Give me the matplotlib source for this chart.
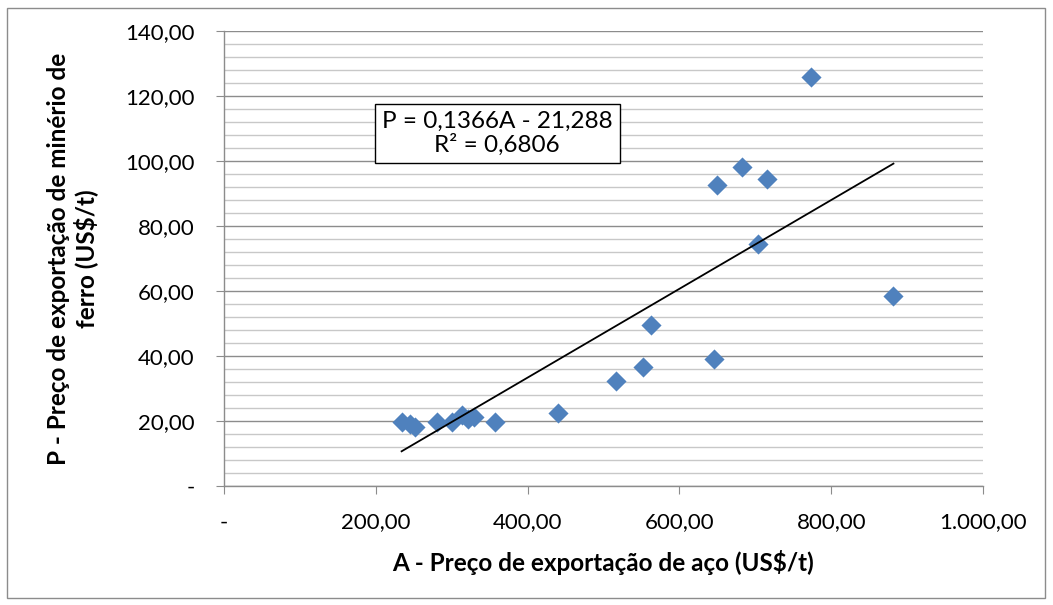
import numpy as np
import matplotlib
matplotlib.use('Agg')
import matplotlib.pyplot as plt
from matplotlib.ticker import MultipleLocator, FuncFormatter
from matplotlib.patches import Rectangle

# Steel export price (A) vs iron ore export price (P), US$/t
aco = [234, 245, 252, 281, 300, 314, 321, 330, 357, 440,
       517, 552, 562, 645, 650, 683, 715, 703, 882, 773]
minerio = [19.6, 19.0, 18.1, 19.6, 19.6, 21.8, 20.5, 21.3, 19.6, 22.6,
           32.4, 36.7, 49.5, 39.1, 92.5, 98.1, 94.4, 74.5, 58.5, 125.7]

# Excel linear trendline as printed on the chart
slope = 0.1366
intercept = -21.288
r2 = 0.6806

plt.rcParams['font.family'] = ['Lato', 'DejaVu Sans']

fig = plt.figure(figsize=(10.53, 6.05), dpi=100)
ax = fig.add_axes([224/1053, 1-486/605, 759/1053, 455/605])

# outer chart border
fig.patches.append(Rectangle((7/1053, 7/605), 1038/1053, 590/605, transform=fig.transFigure,
                             fill=False, edgecolor='#8c8c8c', linewidth=1.0))

ax.scatter(aco, minerio, marker='D', s=105, color='#4f81bd', zorder=3, linewidths=0)

xs = np.array([min(aco), max(aco)])
ax.plot(xs, slope*xs + intercept, color='black', linewidth=1.3, zorder=4)

ax.set_xlim(0, 1000)
ax.set_ylim(0, 140)
ax.xaxis.set_major_locator(MultipleLocator(200))
ax.yaxis.set_major_locator(MultipleLocator(20))
ax.yaxis.set_minor_locator(MultipleLocator(4))

def br(v, nd):
    # brazilian number format: 1.000,00
    s = '{:,.{}f}'.format(v, nd)
    return s.replace(',', 'X').replace('.', ',').replace('X', '.')

def fmt(v, pos):
    if abs(v) < 1e-9:
        return '-'
    return br(v, 2)

ax.xaxis.set_major_formatter(FuncFormatter(fmt))
ax.yaxis.set_major_formatter(FuncFormatter(fmt))

ax.grid(True, which='major', axis='y', color='#8c8c8c', linewidth=1.0, zorder=0)
ax.grid(True, which='minor', axis='y', color='#c8c8c8', linewidth=1.0, zorder=0)
ax.set_axisbelow(True)

for side in ['top', 'right']:
    ax.spines[side].set_visible(False)
for side in ['left', 'bottom']:
    ax.spines[side].set_color('#8c8c8c')
    ax.spines[side].set_linewidth(1.0)

ax.tick_params(axis='both', which='major', direction='out', length=6, color='#8c8c8c',
               labelsize=16, labelcolor='black')
ax.tick_params(axis='y', which='minor', length=0)
ax.tick_params(axis='x', pad=13)
ax.tick_params(axis='y', pad=15)

ax.set_xlabel('A - Preço de exportação de aço (US$/t)', fontsize=17.5, fontweight='bold', va='center')
ax.xaxis.set_label_coords(0.5, -0.168)
ax.set_ylabel('P - Preço de exportação de minério de\nferro (US$/t)', fontsize=17.5,
              fontweight='bold', va='center', linespacing=1.15)
ax.yaxis.set_label_coords(-0.200, 0.5)

eq = 'P = {}A - {}\nR² = {}'.format(br(slope, 4), br(-intercept, 3), br(r2, 4))
ax.text(0.360, 0.775, eq, transform=ax.transAxes, ha='center', va='center',
        fontsize=17.5, linespacing=1.1,
        bbox=dict(boxstyle='square,pad=0.3', facecolor='white', edgecolor='black', linewidth=1.0),
        zorder=5)

fig.savefig('out.png', dpi=100)
